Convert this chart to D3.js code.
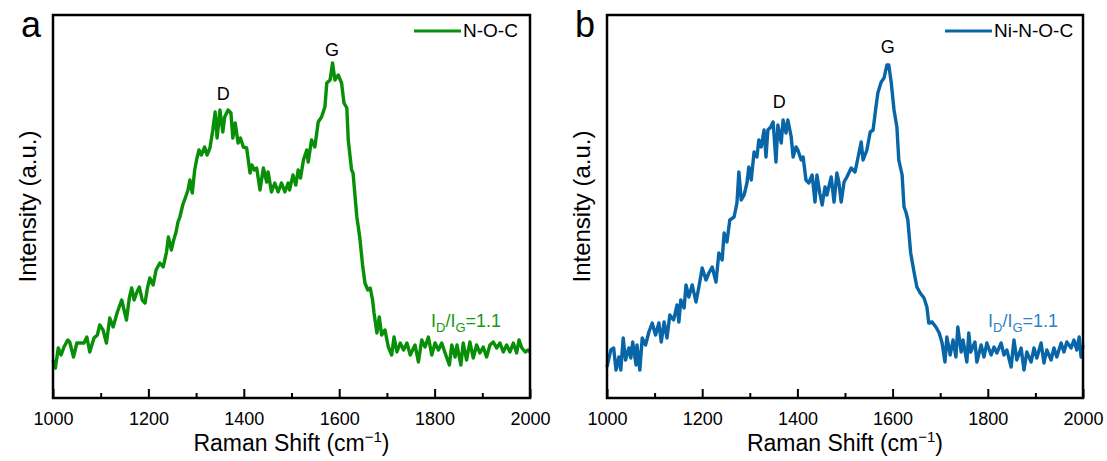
<!DOCTYPE html>
<html>
<head>
<meta charset="utf-8">
<script src="https://cdn.jsdelivr.net/npm/d3@7"></script>
<style>
  body { margin: 0; background: #fff; }
  svg { display: block; font-family: Arial, "Liberation Sans", sans-serif; }
</style>
</head>
<body>
<svg width="1107" height="461"></svg>
<script>
// Raman spectra (intensity in a.u.)
const nocShift = [1000,1005,1011,1017,1023,1031,1035,1043,1050,1058,1065,1071,1077,1086,1093,1098,1105,1112,1119,1126,
  1135,1144,1149,1154,1160,1165,1170,1176,1181,1187,1193,1198,1203,1210,1216,1224,1231,1238,1242,1248,
  1253,1258,1262,1266,1272,1278,1283,1287,1292,1297,1301,1306,1311,1318,1323,1329,1335,1340,1344,1350,
  1356,1360,1367,1373,1377,1382,1388,1393,1399,1406,1413,1417,1422,1427,1434,1441,1448,1451,1458,1465,
  1472,1479,1486,1493,1496,1503,1509,1514,1519,1525,1532,1535,1542,1549,1556,1563,1570,1574,1581,1586,
  1591,1598,1605,1610,1616,1619,1626,1629,1637,1643,1649,1654,1660,1665,1670,1673,1679,1684,1689,1696,
  1703,1710,1715,1721,1728,1735,1742,1749,1754,1759,1766,1773,1780,1787,1794,1801,1808,1815,1822,1831,
  1836,1843,1847,1855,1860,1867,1874,1881,1888,1895,1902,1909,1916,1923,1930,1937,1944,1951,1958,1965,
  1972,1977,1983,1990,1996,2000];
const nocIntensity = [38,30,50,43,51,58,56,41,55,55,55,61,46,60,63,73,68,55,80,71,
  86,98,88,78,100,110,98,106,111,98,95,110,120,113,128,135,131,146,161,148,
  158,166,176,181,193,201,208,218,205,228,238,248,243,251,243,250,268,286,260,288,
  266,281,288,285,260,275,255,260,251,250,225,233,228,230,208,230,216,226,206,215,
  206,215,206,215,208,223,213,228,220,238,248,236,258,251,276,281,291,315,318,335,
  318,323,315,295,290,258,228,225,181,161,133,115,108,110,98,85,65,81,63,68,
  51,43,61,46,55,48,55,43,48,53,36,58,51,61,43,55,48,55,45,33,
  53,41,53,33,55,38,56,40,53,45,51,41,53,56,50,55,46,53,46,55,
  45,58,50,46,48,46];

const niShift = [1000,1008,1014,1019,1025,1029,1034,1039,1046,1050,1054,1061,1063,1069,1074,1081,1088,1095,1102,1109,
  1114,1120,1126,1132,1140,1147,1151,1155,1162,1166,1172,1179,1187,1193,1200,1208,1214,1221,1229,1235,
  1242,1246,1252,1258,1267,1273,1277,1282,1288,1294,1298,1303,1309,1315,1319,1324,1330,1334,1338,1344,
  1349,1355,1359,1366,1370,1376,1380,1387,1391,1397,1401,1408,1412,1418,1424,1431,1437,1441,1447,1452,
  1458,1462,1471,1477,1483,1487,1492,1498,1504,1513,1521,1525,1534,1538,1546,1553,1559,1565,1569,1576,
  1582,1588,1592,1597,1603,1609,1613,1620,1624,1628,1632,1638,1645,1651,1658,1666,1672,1676,1683,1691,
  1698,1704,1710,1714,1721,1727,1733,1737,1744,1748,1756,1760,1764,1773,1777,1786,1792,1798,1807,1813,
  1819,1828,1834,1840,1849,1855,1861,1870,1876,1882,1891,1897,1903,1912,1918,1924,1933,1939,1945,1954,
  1960,1966,1975,1981,1987,1992,1996,2000];
const niIntensity = [31,48,50,28,41,28,60,38,50,40,56,33,53,28,60,53,66,75,63,75,
  56,76,60,83,78,93,76,98,90,113,101,113,96,111,130,118,125,131,116,145,
  138,165,156,178,181,195,226,198,203,215,231,218,246,241,258,251,268,241,268,271,
  276,236,273,255,278,265,278,261,241,251,248,238,241,218,215,223,196,223,205,193,
  211,203,221,196,225,216,196,216,221,230,226,235,256,238,248,266,268,291,305,316,
  320,333,333,316,288,271,238,223,191,186,178,145,126,111,105,100,91,75,76,71,
  65,55,36,61,43,58,41,71,46,58,36,65,46,56,36,53,41,55,43,51,
  45,55,43,48,31,58,38,50,28,46,36,50,40,55,35,48,38,50,41,55,
  46,56,50,58,48,61,41,53];

const xDomain = [1000, 2000];
const majorTicks = [1000, 1200, 1400, 1600, 1800, 2000];
const minorTicks = [1100, 1300, 1500, 1700, 1900];
const yMax = 383;

const svg = d3.select("svg");

function drawPanel(p) {
  const x = d3.scaleLinear().domain(xDomain).range([p.left, p.right]);
  const y = d3.scaleLinear().domain([0, yMax]).range([p.bottom, p.top]);
  const g = svg.append("g");

  // data line
  const pts = p.shift.map((s, i) => [s, p.intensity[i]]);
  g.append("path")
    .datum(pts)
    .attr("fill", "none")
    .attr("stroke", p.color)
    .attr("stroke-width", 3.4)
    .attr("stroke-linejoin", "round")
    .attr("d", d3.line().x(d => x(d[0])).y(d => y(d[1])));

  // x axis, ticks pointing in
  const ax = g.append("g")
    .attr("transform", "translate(0," + p.bottom + ")")
    .call(d3.axisBottom(x).tickValues(majorTicks).tickSize(-9).tickPadding(14).tickFormat(d3.format("d")));
  ax.select(".domain").remove();
  ax.selectAll("line").attr("stroke", "#000").attr("stroke-width", 2);
  ax.selectAll("text").attr("font-size", 18).attr("fill", "#000").attr("font-family", null);

  const mx = g.append("g")
    .attr("transform", "translate(0," + p.bottom + ")")
    .call(d3.axisBottom(x).tickValues(minorTicks).tickSize(-5).tickFormat(""));
  mx.select(".domain").remove();
  mx.selectAll("line").attr("stroke", "#000").attr("stroke-width", 2);

  // frame
  g.append("rect")
    .attr("x", p.left).attr("y", p.top)
    .attr("width", p.right - p.left).attr("height", p.bottom - p.top)
    .attr("fill", "none").attr("stroke", "#000").attr("stroke-width", 2.5);

  // axis titles
  const xt = g.append("text")
    .attr("x", (p.left + p.right) / 2).attr("y", 451)
    .attr("text-anchor", "middle").attr("font-size", 23);
  xt.append("tspan").text("Raman Shift (cm");
  xt.append("tspan").attr("dy", -9).attr("font-size", 15).text("\u22121");
  xt.append("tspan").attr("dy", 9).text(")");

  g.append("text")
    .attr("transform", "translate(" + (p.left - 17) + "," + ((p.top + p.bottom) / 2) + ") rotate(-90)")
    .attr("text-anchor", "middle").attr("font-size", 24)
    .text("Intensity (a.u.)");

  // panel letter
  g.append("text").attr("x", p.left - 32).attr("y", 37)
    .attr("font-size", 36).text(p.letter);

  // legend
  g.append("line")
    .attr("x1", p.right - 116 + p.legendShift).attr("x2", p.right - 69 + p.legendShift)
    .attr("y1", 31).attr("y2", 31)
    .attr("stroke", p.color).attr("stroke-width", 3);
  g.append("text")
    .attr("x", p.right - 67 + p.legendShift).attr("y", 37)
    .attr("font-size", 19).text(p.name);

  // peak labels
  p.peaks.forEach(pk => {
    g.append("text")
      .attr("x", x(pk.shift)).attr("y", y(pk.level))
      .attr("text-anchor", "middle").attr("font-size", 18)
      .text(pk.label);
  });

  // ratio annotation
  const r = g.append("text")
    .attr("x", p.ratioX).attr("y", 327)
    .attr("font-size", 18).attr("fill", p.textColor);
  r.append("tspan").text("I");
  r.append("tspan").attr("dy", 5).attr("font-size", 13).text("D");
  r.append("tspan").attr("dy", -5).text("/I");
  r.append("tspan").attr("dy", 5).attr("font-size", 13).text("G");
  r.append("tspan").attr("dy", -5).text("=1.1");
}

drawPanel({
  left: 53, right: 530, top: 15, bottom: 398,
  shift: nocShift, intensity: nocIntensity,
  color: "#078f07", textColor: "#139913",
  name: "N-O-C", letter: "a", legendShift: 0,
  peaks: [{label: "D", shift: 1357, level: 298}, {label: "G", shift: 1585, level: 342}],
  ratioX: 431
});

drawPanel({
  left: 607, right: 1083, top: 15, bottom: 398,
  shift: niShift, intensity: niIntensity,
  color: "#0866a8", textColor: "#2f82c4",
  name: "Ni-N-O-C", letter: "b", legendShift: -22,
  peaks: [{label: "D", shift: 1362, level: 290}, {label: "G", shift: 1590, level: 345}],
  ratioX: 988
});
</script>
</body>
</html>
